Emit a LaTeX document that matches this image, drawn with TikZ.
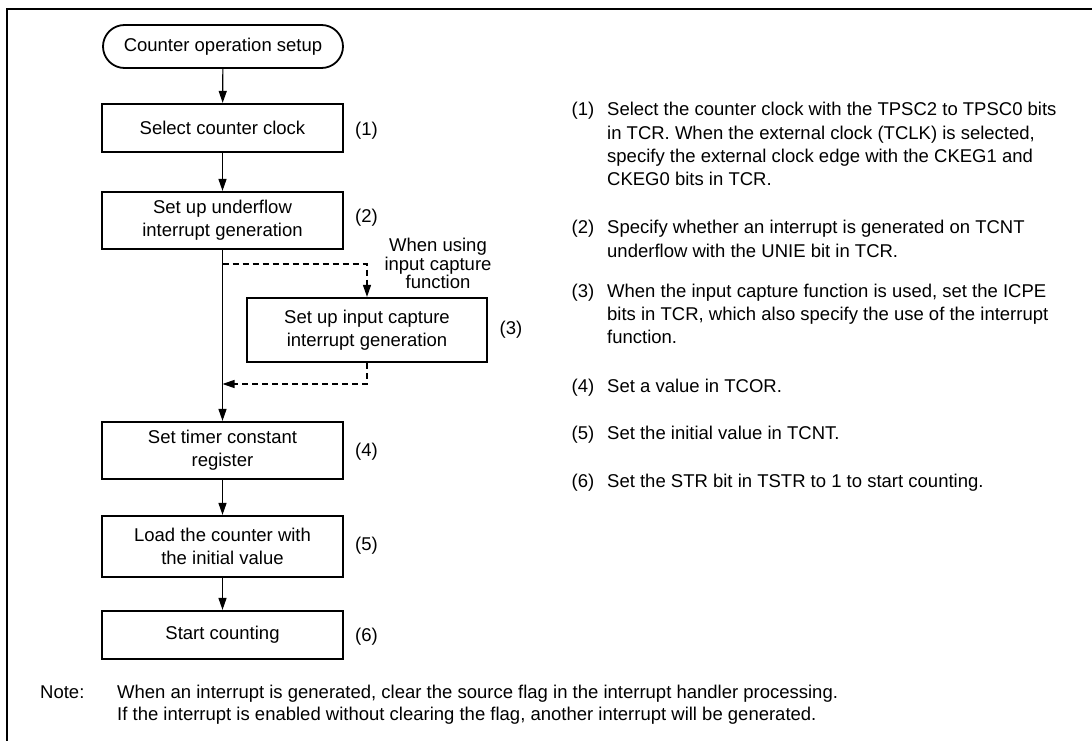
\documentclass[tikz,border=0pt]{standalone}
\usepackage{fontspec}
\setmainfont{Liberation Sans}
\usetikzlibrary{arrows.meta,shapes.misc}
\begin{document}
\begin{tikzpicture}[x=1pt,y=-1pt,
  every node/.style={inner sep=0pt},
  bigfont/.style={font=\fontsize{18.5}{23}\selectfont},
  procbox/.style={bigfont, draw, line width=2.2pt, minimum width=241pt, align=center},
  termbox/.style={bigfont, draw, line width=1.8pt, rounded rectangle, minimum width=240pt, minimum height=43pt},
  conn/.style={line width=1.2pt},
  arr/.style={conn, -{Triangle[length=12pt,width=8pt]}},
  dsh/.style={line width=1.2pt, dash pattern=on 6pt off 4pt},
  numlbl/.style={bigfont, anchor=center},
  desclbl/.style={font=\fontsize{18.5}{23.4}\selectfont, anchor=base west},
  desc/.style={font=\fontsize{18.5}{23.4}\selectfont, anchor=north west, align=left},
  notefont/.style={font=\fontsize{18.5}{22}\selectfont}
]
\useasboundingbox (0,0) rectangle (1092,741);
\draw[line width=2.7pt] (7,741) -- (7,9) -- (1092,9);

% flowchart
\node[termbox] (t) at (223,46.5) {Counter operation setup};
\node[procbox, minimum height=48pt] (b1) at (222.5,128) {Select counter clock};
\node[procbox, minimum height=57pt] (b2) at (222.5,220.5) {Set up underflow\\interrupt generation};
\node[procbox, minimum width=240pt, minimum height=64pt] (b3) at (367,330) {Set up input capture\\interrupt generation};
\node[procbox, minimum height=57pt] (b4) at (222.5,450.5) {Set timer constant\\register};
\node[procbox, minimum height=61pt] (b5) at (222.5,546.5) {Load the counter with\\the initial value};
\node[procbox, minimum height=48pt] (b6) at (222.5,635) {Start counting};

\coordinate (d1) at (222.5,264);
\coordinate (d2) at (222.5,384);

\draw[arr] (t) -- (b1);
\draw[arr] (b1) -- (b2);
\draw[arr] (b2) -- (b4);
\draw[arr] (b4) -- (b5);
\draw[arr] (b5) -- (b6);
\draw[dsh, -{Triangle[length=12pt,width=8pt]}] (d1) -| (b3.north);
\draw[dsh, -{Triangle[length=12pt,width=8pt]}] (b3.south) |- (d2);

\node[align=center, anchor=center, font=\fontsize{18.5}{18.5}\selectfont] (w) at (438,263.5) {When using\\input capture\\function};

\node[numlbl] (n1) at (366.5,131) {(1)};
\node[numlbl] (n2) at (366.5,218) {(2)};
\node[numlbl] (n3) at (511,330) {(3)};
\node[numlbl] (n4) at (366.5,452) {(4)};
\node[numlbl] (n5) at (366.5,546) {(5)};
\node[numlbl] (n6) at (366.5,637) {(6)};

% descriptions
\node[desclbl] (r1) at (571.5,115.8) {(1)};
\node[desc] (r1t) at (607,0|-r1.north) {Select the counter clock with the TPSC2 to TPSC0 bits\\in TCR. When the external clock (TCLK) is selected,\\specify the external clock edge with the CKEG1 and\\CKEG0 bits in TCR.};
\node[desclbl] (r2) at (571.5,233.8) {(2)};
\node[desc] (r2t) at (607,0|-r2.north) {Specify whether an interrupt is generated on TCNT\\underflow with the UNIE bit in TCR.};
\node[desclbl] (r3) at (571.5,297) {(3)};
\node[desc] (r3t) at (607,0|-r3.north) {When the input capture function is used, set the ICPE\\bits in TCR, which also specify the use of the interrupt\\function.};
\node[desclbl] (r4) at (571.5,392) {(4)};
\node[desc] (r4t) at (607,0|-r4.north) {Set a value in TCOR.};
\node[desclbl] (r5) at (571.5,439.6) {(5)};
\node[desc] (r5t) at (607,0|-r5.north) {Set the initial value in TCNT.};
\node[desclbl] (r6) at (571.5,487) {(6)};
\node[desc] (r6t) at (607,0|-r6.north) {Set the STR bit in TSTR to 1 to start counting.};

% note
\node[notefont, anchor=base west] (nl) at (40,698) {Note:};
\node[notefont, anchor=north west, align=left] (nt) at (117,0|-nl.north) {When an interrupt is generated, clear the source flag in the interrupt handler processing.\\If the interrupt is enabled without clearing the flag, another interrupt will be generated.};
\end{tikzpicture}
\end{document}
